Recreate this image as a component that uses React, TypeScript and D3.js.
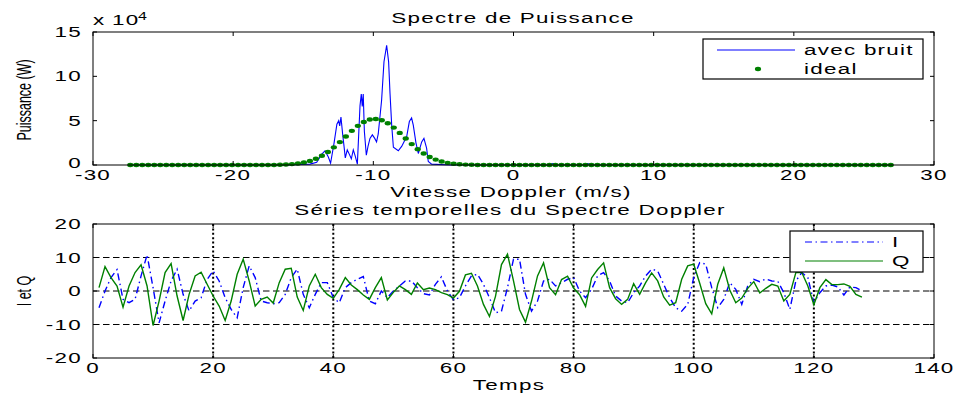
import React from "react";
import * as d3 from "d3";

// ---------- DATA ----------
// top plot: Doppler spectrum (power in units of 1e4 W)
const VEL_START = -27.34;
const VEL_STEP = 0.4272;
const idealPow = [
  0, 0, 0, 0, 0, 0, 0, 0, 0, 0, 0, 0, 0, 0, 0, 0, 0, 0, 0, 0, 0, 0, 0, 0, 0,
  0.03, 0.056, 0.1, 0.174, 0.29, 0.463, 0.71, 1.043, 1.471, 1.991, 2.584, 3.22, 3.849, 4.414, 4.858, 5.129,
  5.196, 5.051, 4.711, 4.216, 3.62, 2.983, 2.358, 1.789, 1.302, 0.909, 0.609, 0.392, 0.242, 0.143, 0.081, 0.044, 0.023,
  0, 0, 0, 0, 0, 0, 0, 0, 0, 0, 0, 0, 0, 0, 0, 0, 0, 0, 0, 0, 0, 0, 0, 0, 0, 0, 0, 0, 0, 0,
  0, 0, 0, 0, 0, 0, 0, 0, 0, 0, 0, 0, 0, 0, 0, 0, 0, 0, 0, 0, 0, 0, 0, 0, 0, 0, 0, 0, 0, 0,
  0, 0, 0, 0, 0, 0, 0, 0, 0, 0,
];
const noisyVel = [
  -27.34, -16.0, -15.2, -14.52, -14.04, -13.69, -13.45, -13.21, -13.05, -12.8, -12.6, -12.47, -12.4, -12.31,
  -12.19, -12.09, -12.0, -11.86, -11.71, -11.57, -11.43, -11.29, -11.14, -10.95, -10.86, -10.79, -10.72,
  -10.64, -10.5, -10.38, -10.24, -10.07, -9.9, -9.77, -9.65, -9.41, -9.24, -9.05, -8.91, -8.81, -8.69,
  -8.57, -8.22, -7.98, -7.62, -7.43, -7.27, -7.15, -6.96, -6.79, -6.55, -6.39, -6.2, -6.08, -5.84, -4.5,
  2.5, 2.8, 3.1, 5.0, 5.3, 5.6, 26.9,
];
const noisyPow = [
  0, 0, 0.05, 0.1, 0.3, 1.2, 1.6, 0.9, 0.2, 2.5, 4.6, 5.0, 4.4, 5.4, 3.5, 2.1, 0.8, 1.7, 1.2, 0.7, 1.7,
  1.0, 0.1, 6.7, 8.0, 6.6, 8.0, 3.8, 1.1, 2.1, 3.0, 3.4, 3.0, 2.6, 3.5, 7.3, 11.65, 13.5, 11.65, 8.1, 4.5,
  2.0, 1.6, 2.1, 3.2, 4.9, 5.3, 4.5, 2.5, 1.3, 2.6, 3.0, 1.9, 0.4, 0.1, 0, 0, 0.15, 0, 0, 0.15, 0, 0,
];
const topXTicks = [-30, -20, -10, 0, 10, 20, 30];
const topYTicks = [0, 5, 10, 15];

// bottom plot: I and Q time series, samples 1..128
const seriesI = [
  -5, 0, 4, 6.4, -2.5, -3.5, -2.5, 4.5, 10.8, 1, -9.5, -3, 3, 6.5, -1, -6, -3, -2, 3.4, 6,
  3, -2, -5.5, -8, 1, 7.5, 4, -3, -3.5, -3.8, -3.5, -1, 4, 6.5, -1, -5, -1, 2.5, 2.5, -2,
  -3.5, 1, 2.5, 3.5, 4.3, -3, -3.8, 0, -2, 0, 1.5, 3, 3, 1, -0.8, -1.2, 2, 4.2, 0, -2.6,
  -2, 1.5, 4.5, 5, 2, -2, -6.5, -6, 1, 9.5, 9.5, -1, -6, -3, 3, 3.5, 1.5, 2.5, 3.5, 4,
  0, -2, 0.5, 4.5, 5.5, 3, -1.5, -3, -3.5, -0.5, 1.5, 4.5, 6.5, 6, 2, -2, -5, -6, -4, 4,
  8.5, 8, 1, -5, -2.5, 2.5, 0.5, -4, 1.5, 3.5, 2.8, 3.6, 3, 2.9, -0.5, -5.5, 3, 5.5, 4, -3.5,
  -0.5, 1.5, 1.8, 1.2, -1.2, 1.2, 1, 0,
];
const seriesQ = [
  1.0, 7.3, 4.0, 1.5, -4.8, 1.5, 5.5, 7.8, 1.5, -10.3, -3.0, 5.5, 8.2, -1.5, -8.8, -1.0, 4.5, 5.6, 2.0, -1.5,
  -4.5, -8.8, -3.0, 5.0, 9.5, 3.0, -4.5, -2.5, -1.8, -3.6, 2.5, 6.5, 6.8, -1.8, -5.8, 1.5, 5.0, 1.0, -1.0, -2.2,
  0.5, 4.0, 1.8, 0.4, -1.2, -2.5, 1.0, 4.0, -2.7, -0.4, 1.5, 0.4, -1.0, 2.4, 0.4, 0.9, 0.4, -0.5, -1.1, -2.1,
  -0.1, 4.8, 5.3, 1.5, -4.0, -7.6, -1.6, 7.9, 11.0, 3.0, -5.5, -9.3, -3.0, 4.5, 8.4, 1.0, -1.1, 3.4, 4.4, 0.9,
  -1.1, -4.6, 3.9, 6.4, 8.4, 1.0, -2.3, -4.0, -2.5, 2.2, -1.0, 2.5, 5.4, 3.0, -1.8, -4.2, -3.5, 3.5, 7.5, 8.0,
  2.3, -3.8, -6.8, 2.0, 6.9, 0.3, -3.5, -2.1, 0.8, 2.8, -0.6, 0.8, 2.0, 1.5, -3.0, -1.0, 5.5, 5.5, 1.5, -4.1,
  1.0, 3.4, 1.9, 1.9, 2.1, 1.4, -1.0, -1.8,
];
const botXTicks = [0, 20, 40, 60, 80, 100, 120, 140];
const botYTicks = [-20, -10, 0, 10, 20];
const botXGrid = [20, 40, 60, 80, 100, 120];
const botYGrid = [-10, 0, 10];

// ---------- STYLE / LAYOUT ----------
const W = 957;
const H = 394;
const L = 93;
const R = 934;
const TOP1 = 32;
const BOT1 = 165;
const TOP2 = 224;
const BOT2 = 358;
const SX = 1.6;
const FONT = "'Liberation Sans', Arial, Helvetica, sans-serif";
const BLUE = "#0000ff";
const GREEN = "#008000";
const TICK = 4;

type TP = { x: number; y: number; anchor?: "start" | "middle" | "end"; size?: number; children: React.ReactNode };
const T = ({ x, y, anchor = "start", size = 14, children }: TP) => (
  <text
    transform={`translate(${x},${y}) scale(${SX},1)`}
    textAnchor={anchor}
    fontSize={size}
    letterSpacing={0.8}
    fontFamily={FONT}
    fill="#000"
  >
    {children}
  </text>
);

const VT = ({ x, y, children }: { x: number; y: number; children: React.ReactNode }) => (
  <text
    transform={`translate(${x},${y}) rotate(-90) scale(1,1.65)`}
    textAnchor="middle"
    fontSize={12.5}
    fontFamily={FONT}
    fill="#000"
  >
    {children}
  </text>
);

export default function App() {
  const x1 = d3.scaleLinear().domain([-30, 30]).range([L, R]);
  const y1 = d3.scaleLinear().domain([0, 15]).range([BOT1, TOP1]);
  const x2 = d3.scaleLinear().domain([0, 140]).range([L, R]);
  const y2 = d3.scaleLinear().domain([-20, 20]).range([BOT2, TOP2]);

  const noisyLine = d3
    .line<number>()
    .x((_, i) => x1(noisyVel[i]))
    .y((d) => y1(d))(noisyPow) as string;

  const idealPts = idealPow.map((p, k) => ({ x: x1(VEL_START + k * VEL_STEP), y: y1(p) }));

  const tsLine = d3
    .line<number>()
    .x((_, i) => x2(i + 1))
    .y((d) => y2(d));

  return (
    <svg
      width={W}
      height={H}
      viewBox={`0 0 ${W} ${H}`}
      style={{ position: "absolute", left: 0, top: 0, background: "#fff" }}
    >
      <rect x={0} y={0} width={W} height={H} fill="#fff" />

      {/* ---------- TOP PLOT ---------- */}
      <g>
        <rect x={L} y={TOP1} width={R - L} height={BOT1 - TOP1} fill="#fff" />
        <path d={noisyLine} fill="none" stroke={BLUE} strokeWidth={1.1} />
        {idealPts.map((p, i) => (
          <ellipse key={i} cx={p.x} cy={p.y} rx={3.1} ry={2.2} fill={GREEN} />
        ))}
        <rect x={L} y={TOP1} width={R - L} height={BOT1 - TOP1} fill="none" stroke="#000" strokeWidth={1} />
        {topXTicks.map((t) => (
          <g key={"tx" + t}>
            <line x1={x1(t)} x2={x1(t)} y1={BOT1} y2={BOT1 - TICK} stroke="#000" />
            <line x1={x1(t)} x2={x1(t)} y1={TOP1} y2={TOP1 + TICK} stroke="#000" />
            <T x={x1(t)} y={BOT1 + 14.5} anchor="middle">
              {t}
            </T>
          </g>
        ))}
        {topYTicks.map((t) => (
          <g key={"ty" + t}>
            <line x1={L} x2={L + TICK} y1={y1(t)} y2={y1(t)} stroke="#000" />
            <line x1={R} x2={R - TICK} y1={y1(t)} y2={y1(t)} stroke="#000" />
            <T x={82} y={y1(t) + (t === 0 ? 3 : 5)} anchor="end">
              {t}
            </T>
          </g>
        ))}
        <T x={93} y={25}>x</T>
        <T x={112} y={25}>10</T>
        <T x={138} y={20} size={10}>4</T>
        <T x={513} y={23} anchor="middle">Spectre de Puissance</T>
        <T x={511} y={197} anchor="middle">Vitesse Doppler (m/s)</T>
        <VT x={31} y={100}>Puissance (W)</VT>

        {/* legend */}
        <rect x={703} y={39} width={220} height={40} fill="#fff" stroke="#000" strokeWidth={1.2} />
        <line x1={717} x2={795} y1={50} y2={50} stroke={BLUE} strokeWidth={1.1} />
        <T x={804} y={55}>avec bruit</T>
        <ellipse cx={758} cy={69} rx={3.1} ry={2.2} fill={GREEN} />
        <T x={804} y={74}>ideal</T>
      </g>

      {/* ---------- BOTTOM PLOT ---------- */}
      <g>
        <rect x={L} y={TOP2} width={R - L} height={BOT2 - TOP2} fill="#fff" />
        {botXGrid.map((t) => (
          <line
            key={"gx" + t}
            x1={x2(t)}
            x2={x2(t)}
            y1={TOP2}
            y2={BOT2}
            stroke="#000"
            strokeWidth={2}
            strokeDasharray="2,2.4"
          />
        ))}
        {botYGrid.map((t) => (
          <line
            key={"gy" + t}
            x1={L}
            x2={R}
            y1={y2(t)}
            y2={y2(t)}
            stroke="#000"
            strokeWidth={1}
            strokeDasharray="6.5,3.5"
          />
        ))}
        <path
          d={tsLine(seriesI) as string}
          fill="none"
          stroke={BLUE}
          strokeWidth={1.4}
          strokeDasharray="7,3.5,1.5,3.5"
        />
        <path d={tsLine(seriesQ) as string} fill="none" stroke={GREEN} strokeWidth={1.4} />
        <rect x={L} y={TOP2} width={R - L} height={BOT2 - TOP2} fill="none" stroke="#000" strokeWidth={1} />
        {botXTicks.map((t) => (
          <g key={"bx" + t}>
            <line x1={x2(t)} x2={x2(t)} y1={BOT2} y2={BOT2 - TICK} stroke="#000" />
            <line x1={x2(t)} x2={x2(t)} y1={TOP2} y2={TOP2 + TICK} stroke="#000" />
            <T x={x2(t)} y={BOT2 + 15} anchor="middle">
              {t}
            </T>
          </g>
        ))}
        {botYTicks.map((t) => (
          <g key={"by" + t}>
            <line x1={L} x2={L + TICK} y1={y2(t)} y2={y2(t)} stroke="#000" />
            <line x1={R} x2={R - TICK} y1={y2(t)} y2={y2(t)} stroke="#000" />
            <T x={82} y={y2(t) + 5} anchor="end">
              {t}
            </T>
          </g>
        ))}
        <T x={510} y={215} anchor="middle">Séries temporelles du Spectre Doppler</T>
        <T x={509} y={390} anchor="middle">Temps</T>
        <VT x={31} y={291}>I et Q</VT>

        {/* legend */}
        <rect x={790} y={231} width={133} height={41} fill="#fff" stroke="#000" strokeWidth={1.2} />
        <line
          x1={805}
          x2={883}
          y1={242}
          y2={242}
          stroke={BLUE}
          strokeWidth={1.2}
          strokeDasharray="7,3.5,1.5,3.5"
        />
        <T x={892} y={247}>I</T>
        <line x1={805} x2={883} y1={261} y2={261} stroke={GREEN} strokeWidth={1.2} />
        <T x={892} y={266}>Q</T>
      </g>
    </svg>
  );
}
